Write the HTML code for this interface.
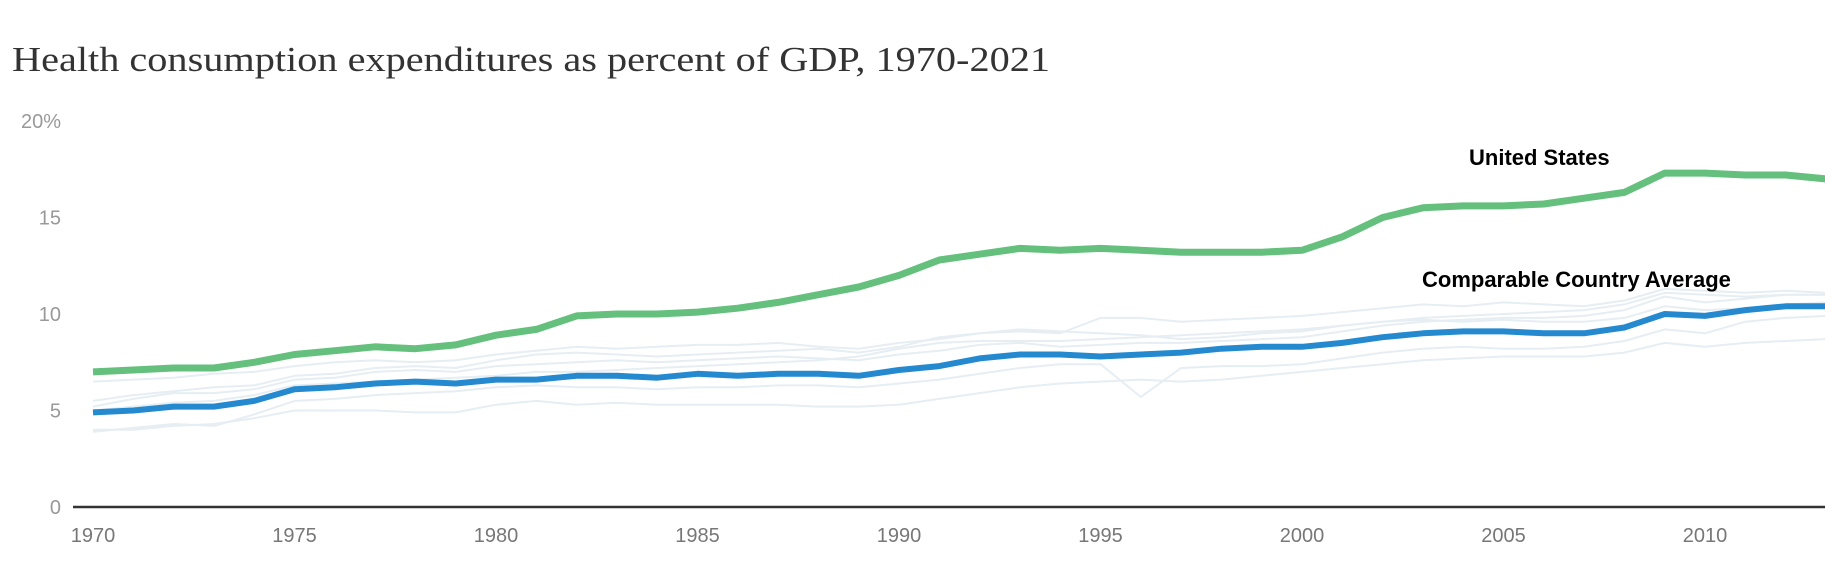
<!DOCTYPE html>
<html><head><meta charset="utf-8"><style>
body{margin:0;background:#fff;width:1825px;height:568px;overflow:hidden}
svg{display:block}
</style></head><body>
<svg id="c" width="1825" height="568">
<text x="12" y="71" font-family="'Liberation Serif',serif" font-size="35" fill="#333" textLength="1038" lengthAdjust="spacingAndGlyphs">Health consumption expenditures as percent of GDP, 1970-2021</text>
</svg>
<script>
const years=[];for(let y=1970;y<=2013;y++)years.push(y);
const usValues=[7.0,7.1,7.2,7.2,7.5,7.9,8.1,8.3,8.2,8.4,8.9,9.2,9.9,10.0,10.0,10.1,10.3,10.6,11.0,11.4,12.0,12.8,13.1,13.4,13.3,13.4,13.3,13.2,13.2,13.2,13.3,14.0,15.0,15.5,15.6,15.6,15.7,16.0,16.3,17.3,17.3,17.2,17.2,17.0];
const avgValues=[4.9,5.0,5.2,5.2,5.5,6.1,6.2,6.4,6.5,6.4,6.6,6.6,6.8,6.8,6.7,6.9,6.8,6.9,6.9,6.8,7.1,7.3,7.7,7.9,7.9,7.8,7.9,8.0,8.2,8.3,8.3,8.5,8.8,9.0,9.1,9.1,9.0,9.0,9.3,10.0,9.9,10.2,10.4,10.4];
const c1=[5.5,5.8,6.0,6.2,6.3,6.8,6.9,7.2,7.3,7.2,7.6,7.9,8.0,7.9,7.8,7.9,8.0,8.1,8.2,8.0,8.3,8.8,9.0,9.1,9.0,9.8,9.8,9.6,9.7,9.8,9.9,10.1,10.3,10.5,10.4,10.6,10.5,10.4,10.7,11.3,11.2,11.1,11.2,11.1];
const c2=[6.5,6.6,6.7,6.9,7.0,7.3,7.5,7.6,7.5,7.6,7.9,8.1,8.3,8.2,8.3,8.4,8.4,8.5,8.3,8.2,8.5,8.7,9.0,9.2,9.1,9.0,8.9,8.7,8.8,9.0,9.1,9.4,9.6,9.8,9.9,10.0,10.1,10.2,10.5,11.1,11.0,10.9,11.0,11.0];
const c3=[4.0,4.0,4.2,4.3,4.6,5.0,5.0,5.0,4.9,4.9,5.3,5.5,5.3,5.4,5.3,5.3,5.3,5.3,5.2,5.2,5.3,5.6,5.9,6.2,6.4,6.5,6.6,6.5,6.6,6.8,7.0,7.2,7.4,7.6,7.7,7.8,7.8,7.8,8.0,8.5,8.3,8.5,8.6,8.7];
const c4=[5.0,5.2,5.4,5.5,5.8,6.3,6.4,6.5,6.6,6.7,6.8,7.0,7.0,7.1,7.2,7.3,7.4,7.5,7.6,7.8,8.2,8.5,8.6,8.6,8.6,8.7,8.8,8.9,9.0,9.1,9.2,9.4,9.6,9.7,9.6,9.7,9.6,9.6,9.8,10.4,10.2,10.3,10.5,10.6];
const c5=[3.9,4.1,4.3,4.2,4.8,5.5,5.6,5.8,5.9,6.0,6.2,6.3,6.2,6.2,6.1,6.2,6.2,6.3,6.3,6.2,6.4,6.6,6.9,7.2,7.4,7.4,5.7,7.2,7.3,7.3,7.4,7.7,8.0,8.2,8.3,8.2,8.2,8.3,8.6,9.2,9.0,9.6,9.8,9.9];
const c6=[5.2,5.6,5.9,5.9,6.1,6.6,6.7,7.0,7.1,7.0,7.3,7.4,7.5,7.6,7.5,7.6,7.7,7.8,7.7,7.6,7.9,8.1,8.4,8.5,8.3,8.4,8.5,8.5,8.6,8.7,8.8,9.1,9.4,9.6,9.7,9.8,9.8,9.9,10.2,10.9,10.6,10.8,11.0,11.0];
const yTicks=[0,5,10,15,20];
const yTickLabels=["0","5","10","15","20%"];
const xTicks=[1970,1975,1980,1985,1990,1995,2000,2005,2010];
const NS="http://www.w3.org/2000/svg";
const svg=document.getElementById('c');
const X=y=>93+(y-1970)*40.3;
const Y=v=>507-v*19.3;
function mk(t,a){const e=document.createElementNS(NS,t);for(const k in a)e.setAttribute(k,a[k]);svg.appendChild(e);return e;}
yTicks.forEach((v,i)=>{const t=mk('text',{x:61,y:Y(v)+7,'text-anchor':'end','font-family':"'Liberation Sans',sans-serif",'font-size':20,fill:'#999'});t.textContent=yTickLabels[i];

});
xTicks.forEach(v=>{const t=mk('text',{x:X(v),y:542,'text-anchor':'middle','font-family':"'Liberation Sans',sans-serif",'font-size':20,fill:'#777'});t.textContent=v;

});
function line(vals,stroke,w,name){const d=vals.map((v,i)=>(i?'L':'M')+X(years[i]).toFixed(1)+','+Y(v).toFixed(1)).join('');const p=mk('path',{d:d,fill:'none',stroke:stroke,'stroke-width':w,'stroke-linejoin':'round'});

return p;}
[c1,c2,c3,c4,c5,c6].forEach(s=>line(s,'#e6eef3',2,'country-line'));
const ax=mk('line',{x1:73,x2:1825,y1:507,y2:507,stroke:'#333','stroke-width':2.5});


line(avgValues,'#2589d0',6,'comparable-average-line');
line(usValues,'#64c07c',7,'united-states-line');
const l1=mk('text',{x:1469,y:165,'font-family':"'Liberation Sans',sans-serif",'font-weight':'bold','font-size':22,fill:'#000'});l1.textContent='United States';


const l2=mk('text',{x:1422,y:287,'font-family':"'Liberation Sans',sans-serif",'font-weight':'bold','font-size':22,fill:'#000'});l2.textContent='Comparable Country Average';


</script>
</body></html>
